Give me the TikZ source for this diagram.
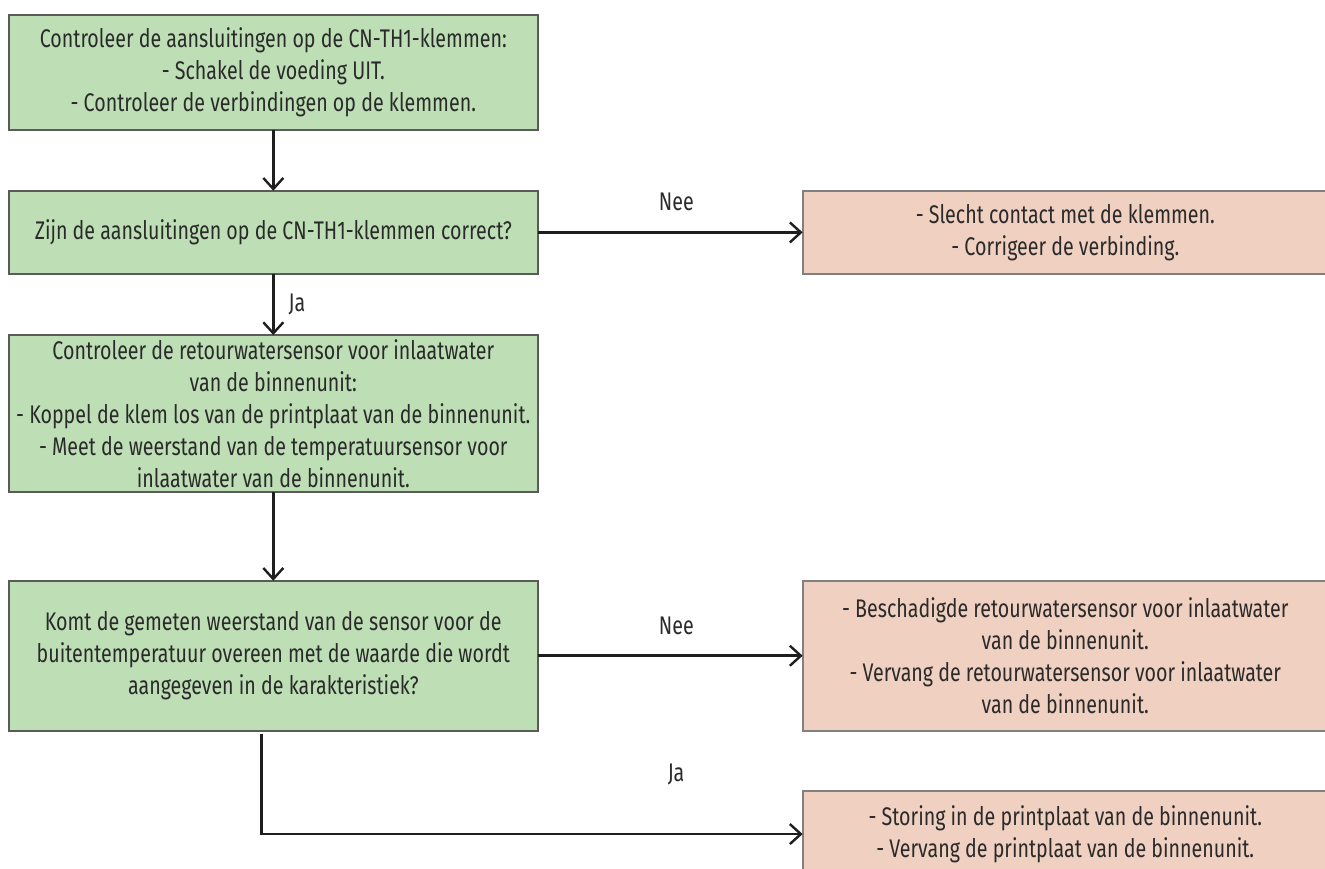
\documentclass[tikz,border=0pt]{standalone}
\usepackage{fontspec}
\setmainfont{Fira Sans}[FakeStretch=0.77]
\usepackage{xcolor}
\usetikzlibrary{arrows.meta,positioning}
\definecolor{fcink}{HTML}{2A2A2A}
\definecolor{fcgreen}{HTML}{BEDFB5}
\definecolor{fcgreenline}{HTML}{5A5A5A}
\definecolor{fcsalmon}{HTML}{F0D0C1}
\definecolor{fcsalmonline}{HTML}{808080}
\definecolor{fcarrow}{HTML}{1E1E1E}
\tikzset{
  check/.style={rectangle,draw=fcgreenline,line width=2pt,fill=fcgreen,
                minimum width=529.3pt,outer sep=0pt,inner sep=0pt,
                align=center,text=fcink},
  fault/.style={rectangle,draw=fcsalmonline,line width=2pt,fill=fcsalmon,
                minimum width=525.3pt,outer sep=0pt,inner sep=0pt,
                align=center,text=fcink},
  flow/.style={-{Straight Barb[length=11pt,width=20pt,line width=2.4pt]},
               line width=2.8pt,draw=fcarrow},
  lbl/.style={text=fcink,inner sep=0pt},
}
\begin{document}
\begin{tikzpicture}[x=1pt,y=1pt,font=\fontsize{25.5}{32}\selectfont]
  \useasboundingbox (0,0) rectangle (1325,-868);
  \node[check,minimum height=114.7pt] (c1) at (273.3,-72.7)
    {Controleer de aansluitingen op de CN-TH1-klemmen:\\- Schakel de voeding UIT.\\- Controleer de verbindingen op de klemmen.};
  \node[check,minimum height=83.3pt,below=60.7pt of c1] (q1)
    {Zijn de aansluitingen op de CN-TH1-klemmen correct?};
  \node[check,minimum height=157pt,below=61pt of q1] (c2)
    {Controleer de retourwatersensor voor inlaatwater\\van de binnenunit:\\- Koppel de klem los van de printplaat van de binnenunit.\\- Meet de weerstand van de temperatuursensor voor\\inlaatwater van de binnenunit.};
  \node[check,minimum height=150pt,below=88.7pt of c2] (q2)
    {Komt de gemeten weerstand van de sensor voor de\\buitentemperatuur overeen met de waarde die wordt\\aangegeven in de karakteristiek?};
  \node[fault,minimum height=83.3pt,right=264.7pt of q1] (f1)
    {- Slecht contact met de klemmen.\\- Corrigeer de verbinding.};
  \node[fault,minimum height=150pt,right=264.7pt of q2] (f2)
    {- Beschadigde retourwatersensor voor inlaatwater\\van de binnenunit.\\- Vervang de retourwatersensor voor inlaatwater\\van de binnenunit.};
  \node[fault,minimum height=86.6pt,below=60pt of f2] (f3)
    {- Storing in de printplaat van de binnenunit.\\- Vervang de printplaat van de binnenunit.};
  \draw[flow] (c1) -- (q1);
  \draw[flow] (q1) -- node[lbl,right=14pt] {Ja} (c2);
  \draw[flow] (q1) -- node[lbl,above=20pt,xshift=6pt] {Nee} (f1);
  \draw[flow] (c2) -- (q2);
  \draw[flow] (q2) -- node[lbl,above=20pt,xshift=6pt] {Nee} (f2);
  \draw[flow] ([xshift=-11.5pt,yshift=-3pt]q2.south) |- node[lbl,pos=0.883,above=48pt] {Ja} (f3);
\end{tikzpicture}
\end{document}
